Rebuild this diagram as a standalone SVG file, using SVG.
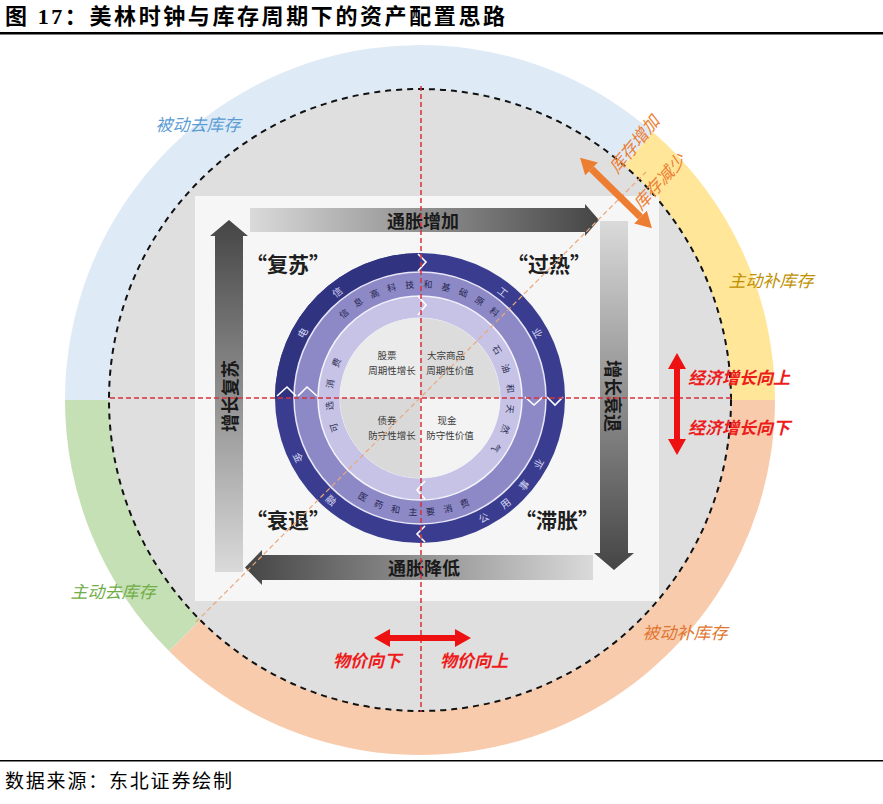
<svg xmlns="http://www.w3.org/2000/svg" width="883" height="804" viewBox="0 0 883 804">
<style>
.cjk{font-family:"Noto Sans CJK SC","Liberation Sans",sans-serif}
.title{font-family:"Liberation Serif","Noto Sans CJK SC",serif;font-weight:bold;font-size:22px;fill:#000}
.foot{font-family:"Liberation Serif","Noto Sans CJK SC",serif;font-size:19px;fill:#000}
.arw{font-family:"Noto Sans CJK SC",sans-serif;font-weight:bold;font-size:18px;fill:#1a1a1a;text-anchor:middle;dominant-baseline:central}
.quad{font-family:"Noto Sans CJK SC",sans-serif;font-weight:bold;font-size:21px;fill:#1e1e1e;text-anchor:middle}
.ctr{font-family:"Noto Sans CJK SC",sans-serif;font-size:9.5px;fill:#3a3a3a;text-anchor:middle}
.ro{font-family:"Noto Sans CJK SC",sans-serif;font-size:10px;fill:#d6d6f2;text-anchor:middle;dominant-baseline:central}
.rm{font-family:"Noto Sans CJK SC",sans-serif;font-size:9px;fill:#26264f;text-anchor:middle;dominant-baseline:central}
.rl{font-family:"Noto Sans CJK SC",sans-serif;font-size:9px;fill:#2f2f55;text-anchor:middle;dominant-baseline:central}
.lab{font-family:"Noto Sans CJK SC",sans-serif;font-size:17px;font-style:italic;text-anchor:middle}
.red{font-family:"Noto Sans CJK SC",sans-serif;font-size:17px;font-style:italic;font-weight:bold;fill:#ee1c1c}
.chev{fill:none;stroke:#ffffff;stroke-width:1.6}
.rdash{stroke:#d9303c;stroke-width:1.5;stroke-dasharray:5 3;fill:none}
</style>
<defs>
<linearGradient id="gR" x1="0" y1="0" x2="1" y2="0"><stop offset="0" stop-color="#dadada"/><stop offset="1" stop-color="#454545"/></linearGradient>
<linearGradient id="gL" x1="0" y1="0" x2="1" y2="0"><stop offset="0" stop-color="#454545"/><stop offset="1" stop-color="#dadada"/></linearGradient>
<linearGradient id="gU" x1="0" y1="0" x2="0" y2="1"><stop offset="0" stop-color="#454545"/><stop offset="1" stop-color="#dadada"/></linearGradient>
<linearGradient id="gD" x1="0" y1="0" x2="0" y2="1"><stop offset="0" stop-color="#dadada"/><stop offset="1" stop-color="#454545"/></linearGradient>
<marker id="mO" markerUnits="userSpaceOnUse" markerWidth="16" markerHeight="18" refX="0" refY="9" orient="auto-start-reverse"><path d="M0,0 L16,9 L0,18 Z" fill="#ed7d31"/></marker>
<marker id="mR" markerUnits="userSpaceOnUse" markerWidth="16" markerHeight="18" refX="0" refY="9" orient="auto-start-reverse"><path d="M0,0 L16,9 L0,18 Z" fill="#ee1111"/></marker>
</defs>
<rect width="883" height="804" fill="#ffffff"/>

<!-- title -->
<text class="title" x="5" y="24" textLength="500" lengthAdjust="spacing">图 17：美林时钟与库存周期下的资产配置思路</text>
<rect x="0" y="32" width="883" height="2.5" fill="#000"/>

<!-- outer coloured ring -->
<g id="inventory-ring">
<path d="M420,400 L65,400 A355,355 0 0 1 652.9,132.1 Z" fill="#deebf7"/>
<path d="M420,400 L652.9,132.1 A355,355 0 0 1 775,400 Z" fill="#ffe699"/>
<path d="M420,400 L775,400 A355,355 0 0 1 169,651 Z" fill="#f8cbad"/>
<path d="M420,400 L169,651 A355,355 0 0 1 65,400 Z" fill="#c5e0b4"/>
<circle cx="420" cy="400" r="311" fill="#dfdfdf"/>
<circle cx="420" cy="400" r="311" fill="none" stroke="#111" stroke-width="2" stroke-dasharray="6 5"/>
</g>

<!-- panel -->
<rect x="195" y="196" width="464" height="405" fill="#f6f6f6"/>

<!-- block arrows -->
<g id="arrow-inflation-up">
<path d="M250,208 H585 V204 L599,220 L585,236 V232 H250 Z" fill="url(#gR)"/>
<text class="arw" x="423" y="220">通胀增加</text>
</g>
<g id="arrow-growth-up">
<path d="M215,572 V236 H210 L229,220 L248,236 H243 V572 Z" fill="url(#gU)"/>
<text class="arw" transform="translate(229,396) rotate(-90)" x="0" y="0">增长复苏</text>
</g>
<g id="arrow-growth-down">
<path d="M600,221 H628 V553 H634 L614,570 L594,553 H600 Z" fill="url(#gD)"/>
<text class="arw" transform="translate(614,396) rotate(90)" x="0" y="0">增长衰退</text>
</g>
<g id="arrow-inflation-down">
<path d="M593,555 V580 H262 V585 L245,567.5 L262,550 V555 Z" fill="url(#gL)"/>
<text class="arw" x="424" y="567">通胀降低</text>
</g>

<!-- quadrant labels -->
<g id="q-recovery"><text class="quad" x="288" y="272">“复苏”</text></g>
<g id="q-overheat"><text class="quad" x="549" y="272">“过热”</text></g>
<g id="q-recession"><text class="quad" x="288" y="528">“衰退”</text></g>
<g id="q-stagflation"><text class="quad" x="557" y="528">“滞胀”</text></g>

<!-- clock rings -->
<g id="clock">
<circle cx="420" cy="398" r="145" fill="#3a3d8f"/>
<path d="M420,253 A145,145 0 0 0 275,398 L420,398 Z" fill="#303380"/>
<circle cx="420" cy="398" r="126" fill="#8d89c6" stroke="#e8e6f8" stroke-width="1.5"/>
<circle cx="420" cy="398" r="102" fill="#c6c3e6" stroke="#f4f3fc" stroke-width="1.5"/>
<circle cx="420" cy="398" r="80" fill="#e4e4e4" stroke="#f4f3fc" stroke-width="1"/>
<path d="M420,398 L420,318 A80,80 0 0 1 500,398 Z" fill="#dcdcdc"/>
<path d="M420,398 L500,398 A80,80 0 0 1 420,478 Z" fill="#f3f3f3"/>
<path d="M420,398 L420,478 A80,80 0 0 1 340,398 Z" fill="#d9d9d9"/>
<path d="M420,398 L340,398 A80,80 0 0 1 420,318 Z" fill="#ebebeb"/>
<polyline class="chev" points="418,254 426,262 418,271"/>
<polyline class="chev" points="418,296 426,305 418,315"/>
<polyline class="chev" points="525,397 534,405 543,397"/>
<polyline class="chev" points="547,397 555,405 563,397"/>
<polyline class="chev" points="277,396 287,387 296,396"/>
<polyline class="chev" points="298,396 307,387 317,396"/>
<polyline class="chev" points="425,481 417,490 425,499"/>
<polyline class="chev" points="425,526 417,534 425,542"/>

<!-- outer ring text -->
<text class="ro" transform="translate(301.9,332.6) rotate(299)">电</text>
<text class="ro" transform="translate(336.9,291.6) rotate(322)">信</text>
<text class="ro" transform="translate(503.1,291.6) rotate(38)">工</text>
<text class="ro" transform="translate(538.1,332.6) rotate(61)">业</text>
<text class="ro" transform="translate(483.4,517.2) rotate(-28)">公</text>
<text class="ro" transform="translate(505.0,502.9) rotate(-39)">用</text>
<text class="ro" transform="translate(523.4,484.8) rotate(-50)">事</text>
<text class="ro" transform="translate(538.1,463.4) rotate(-61)">业</text>
<text class="ro" transform="translate(298.7,457.2) rotate(64)">金</text>
<text class="ro" transform="translate(331.4,499.9) rotate(41)">融</text>

<!-- middle ring text -->
<text class="rm" transform="translate(343.7,313.3) rotate(318)">信</text>
<text class="rm" transform="translate(358.2,302.2) rotate(327.2)">息</text>
<text class="rm" transform="translate(374.4,293.5) rotate(336.4)">高</text>
<text class="rm" transform="translate(391.6,287.6) rotate(345.6)">科</text>
<text class="rm" transform="translate(409.7,284.5) rotate(354.8)">技</text>
<text class="rm" transform="translate(428.0,284.3) rotate(4)">和</text>
<text class="rm" transform="translate(446.0,287.0) rotate(13.2)">基</text>
<text class="rm" transform="translate(463.4,292.6) rotate(22.4)">础</text>
<text class="rm" transform="translate(479.7,300.9) rotate(31.6)">原</text>
<text class="rm" transform="translate(494.5,311.7) rotate(40.8)">料</text>
<text class="rm" transform="translate(363.0,496.7) rotate(30)">医</text>
<text class="rm" transform="translate(378.8,504.3) rotate(21.2)">药</text>
<text class="rm" transform="translate(395.7,509.4) rotate(12.3)">和</text>
<text class="rm" transform="translate(413.0,511.8) rotate(3.5)">主</text>
<text class="rm" transform="translate(430.5,511.5) rotate(-5.3)">要</text>
<text class="rm" transform="translate(448.0,508.5) rotate(-14.2)">消</text>
<text class="rm" transform="translate(464.5,502.9) rotate(-23)">费</text>

<!-- inner ring text -->
<text class="rl" transform="translate(497.2,349.8) rotate(58)">石</text>
<text class="rl" transform="translate(506.0,368.4) rotate(71)">油</text>
<text class="rl" transform="translate(510.5,388.5) rotate(84)">和</text>
<text class="rl" transform="translate(510.3,409.1) rotate(97)">天</text>
<text class="rl" transform="translate(505.5,429.1) rotate(110)">然</text>
<text class="rl" transform="translate(496.3,447.6) rotate(123)">气</text>
<text class="rl" transform="translate(334.0,427.6) rotate(251)">可</text>
<text class="rl" transform="translate(329.3,405.9) rotate(265)">选</text>
<text class="rl" transform="translate(330.1,383.8) rotate(279)">消</text>
<text class="rl" transform="translate(336.2,362.4) rotate(293)">费</text>

<!-- centre assets -->
<text class="ctr" x="387" y="359">股票</text>
<text class="ctr" x="392" y="374">周期性增长</text>
<text class="ctr" x="446" y="359">大宗商品</text>
<text class="ctr" x="450" y="374">周期性价值</text>
<text class="ctr" x="387" y="424">债券</text>
<text class="ctr" x="392" y="439">防守性增长</text>
<text class="ctr" x="447" y="424">现金</text>
<text class="ctr" x="450" y="439">防守性价值</text>
</g>

<!-- connectors / axes -->
<g id="connectors">
<line class="rdash" x1="421" y1="86" x2="421" y2="712"/>
<line class="rdash" x1="110" y1="398" x2="731" y2="398"/>
<line x1="196" y1="622" x2="646" y2="172" stroke="#eaa77a" stroke-width="1.2" stroke-dasharray="5 3"/>
<line x1="591.5" y1="169" x2="640.5" y2="217" stroke="#ed7d31" stroke-width="7" marker-start="url(#mO)" marker-end="url(#mO)"/>
<line x1="677" y1="369" x2="677" y2="439" stroke="#ee1111" stroke-width="6" marker-start="url(#mR)" marker-end="url(#mR)"/>
<line x1="390" y1="638" x2="455" y2="638" stroke="#ee1111" stroke-width="6" marker-start="url(#mR)" marker-end="url(#mR)"/>
</g>

<!-- labels -->
<g id="lbl-inventory">
<text class="lab" x="198" y="131" fill="#5b9bd5">被动去库存</text>
<text class="lab" x="771" y="287" fill="#bf9000">主动补库存</text>
<text class="lab" x="113" y="598" fill="#70ad47">主动去库存</text>
<text class="lab" x="685" y="639" fill="#e0752d">被动补库存</text>
<text class="lab" transform="translate(639,148) rotate(-51)" fill="#ed7d31" font-size="15">库存增加</text>
<text class="lab" transform="translate(664,186) rotate(-48)" fill="#ed7d31" font-size="15">库存减少</text>
</g>
<g id="lbl-growth">
<text class="red" x="688" y="384">经济增长向上</text>
<text class="red" x="688" y="434">经济增长向下</text>
</g>
<g id="lbl-price">
<text class="red" x="333" y="667">物价向下</text>
<text class="red" x="440" y="667">物价向上</text>
</g>

<!-- footer -->
<rect x="0" y="760" width="883" height="1.5" fill="#000"/>
<text class="foot" x="5" y="788" textLength="227" lengthAdjust="spacing">数据来源：东北证券绘制</text>
</svg>
